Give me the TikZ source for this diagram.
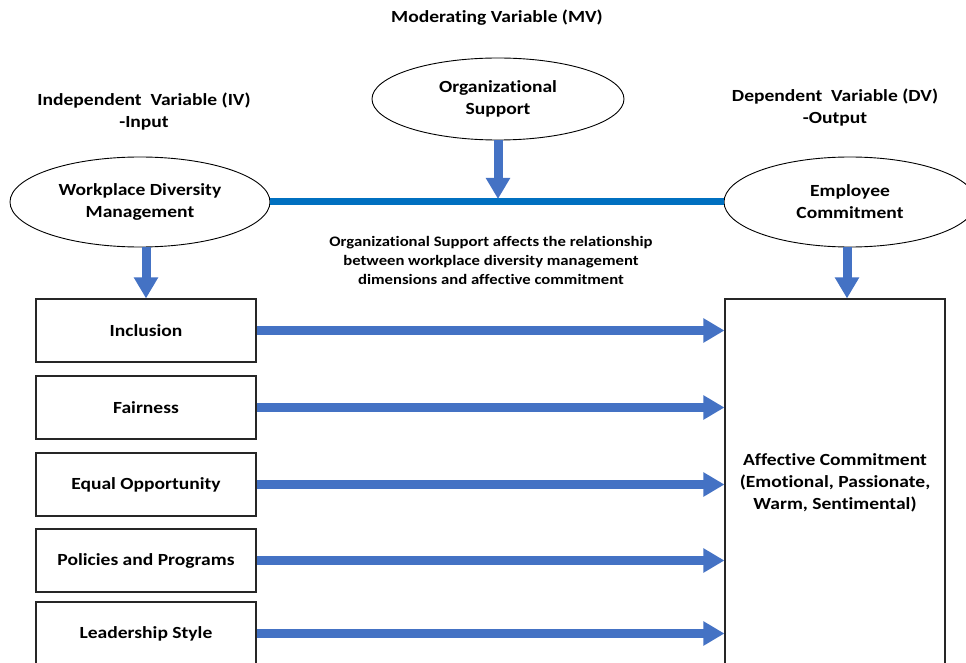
\documentclass[tikz,border=0pt]{standalone}
\usepackage{fontspec}
\setmainfont[FakeStretch=1.15,Ligatures=NoCommon]{Carlito}
\usetikzlibrary{shapes.geometric,arrows.meta}
\definecolor{arrowblue}{HTML}{4472C4}
\definecolor{lineblue}{HTML}{0070C0}
\begin{document}
\begin{tikzpicture}[x=1pt,y=-1pt,
  lbl/.style={font=\fontsize{17}{22}\selectfont\bfseries, align=center, inner sep=0pt},
  small/.style={font=\fontsize{14.5}{19}\selectfont\bfseries, align=center, inner sep=0pt},
  ell/.style={ellipse, draw=black, line width=0.9pt, inner sep=0pt, lbl},
  box/.style={rectangle, draw=black!85, line width=1.1pt, minimum width=220pt, minimum height=63pt, inner sep=0pt, lbl},
  barrow/.style={draw=arrowblue, line width=9pt, -{Triangle[width=23pt,length=21pt]}},
]
\useasboundingbox (0,0) rectangle (966,663);
\clip (0,0) rectangle (966,663);

\node[lbl] (mv) at (497,18) {Moderating Variable (MV)};
\node[lbl] (iv) at (144,112) {Independent\ \ Variable (IV)\\-Input};
\node[lbl] (dv) at (835,108) {Dependent\ \ Variable (DV)\\-Output};

\node[ell, minimum width=252pt, minimum height=82pt] (os) at (498,99) {Organizational\\Support};
\node[ell, minimum width=260pt, minimum height=90pt] (wdm) at (140,202) {Workplace Diversity\\Management};
\node[ell, minimum width=252pt, minimum height=90pt] (ec) at (850,202) {Employee\\Commitment};

\draw[lineblue, line width=7pt] (wdm.east) -- (ec.west);
\coordinate (mvtip) at (498,199);
\draw[barrow] (os.south) -- (mvtip);

\node[small] (note) at (491,260) {Organizational Support affects the relationship\\between workplace diversity management\\dimensions and affective commitment};

\node[box] (b1) at (146,330.5) {Inclusion};
\node[box] (b2) at (146,407.5) {Fairness};
\node[box] (b3) at (146,484.5) {Equal Opportunity};
\node[box] (b4) at (146,560.5) {Policies and Programs};
\node[box] (b5) at (146,633.5) {Leadership Style};

\node[box, minimum height=368pt] (ac) at (835,483) {Affective Commitment\\(Emotional, Passionate,\\Warm, Sentimental)};

\draw[barrow] (b1.north |- wdm.south) -- (b1.north);
\draw[barrow] ([xshift=-3pt]ec.south) -- ([xshift=-3pt]ec.south |- ac.north);

\foreach \b in {b1,b2,b3,b4,b5}
  \draw[barrow] (\b.east) -- (\b.east -| ac.west);
\end{tikzpicture}
\end{document}
